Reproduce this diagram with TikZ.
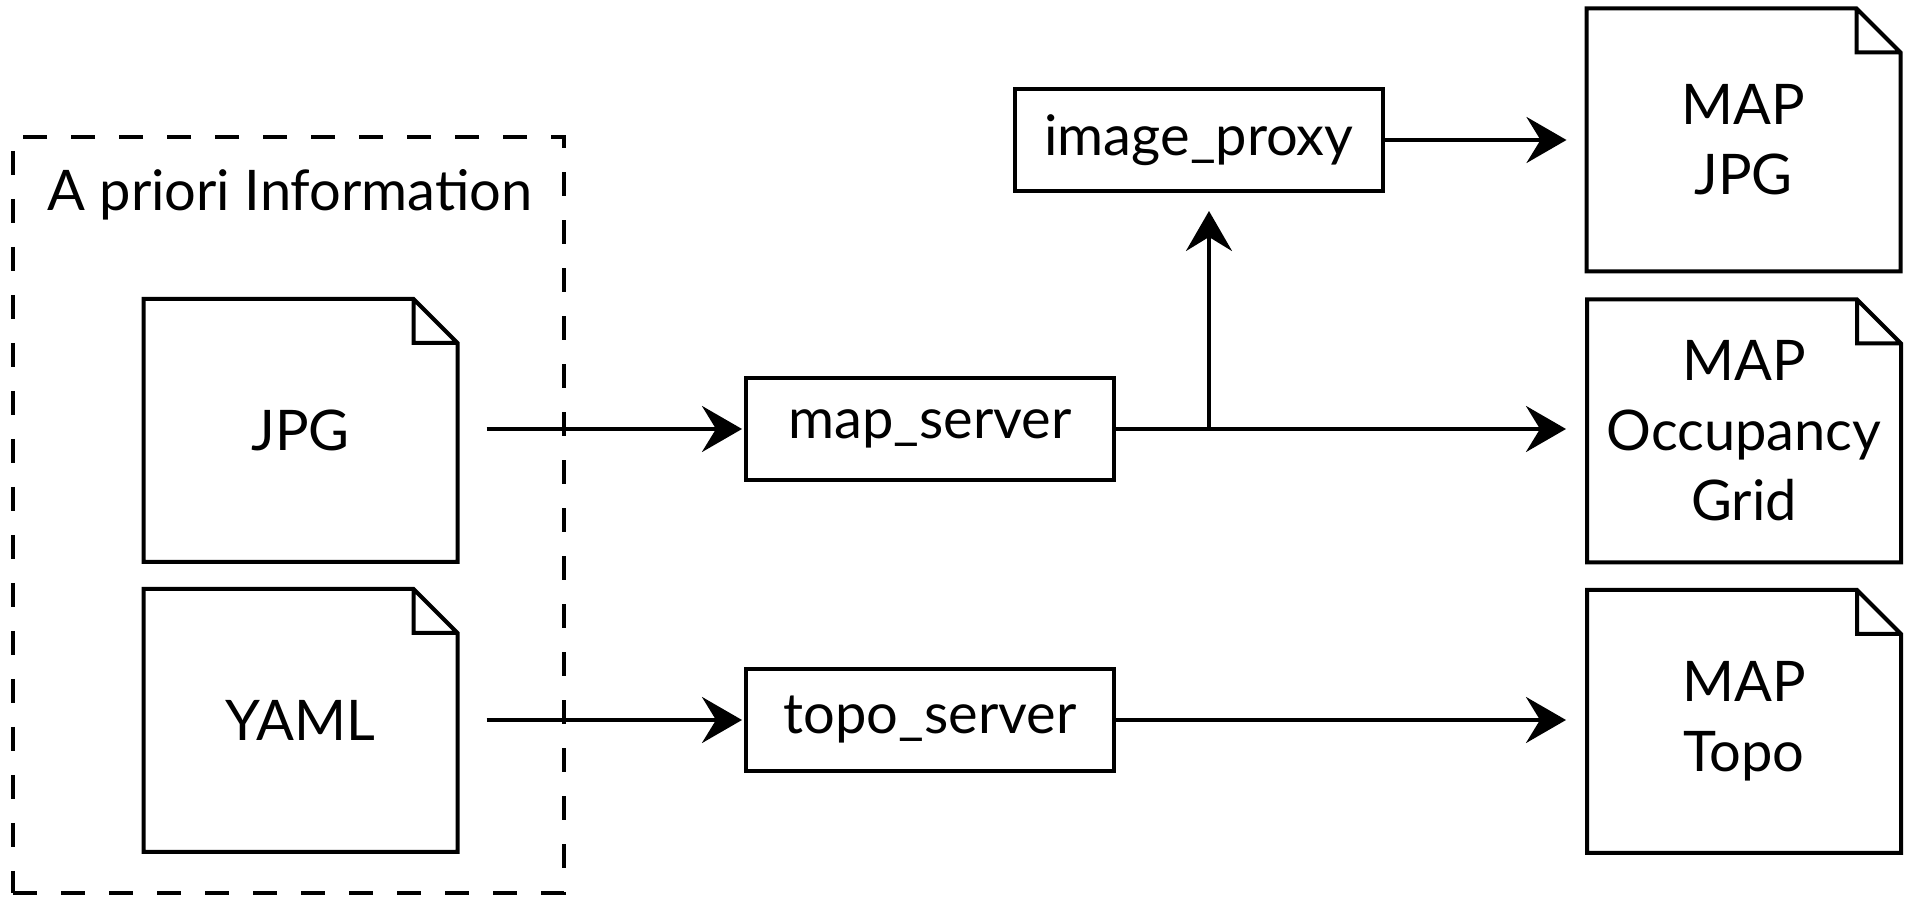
\documentclass[tikz,border=0pt]{standalone}
\usepackage{fontspec}
\setmainfont{Lato}
\usetikzlibrary{arrows.meta}
\begin{document}
\begin{tikzpicture}[x=0.5pt,y=-0.5pt,
  every node/.style={font=\fontsize{28}{35}\selectfont, align=center, inner sep=0pt, outer sep=0pt},
  docnode/.style={minimum width=157pt, minimum height=131.5pt},
  procbox/.style={draw, line width=2pt, minimum width=184pt, minimum height=51pt},
  docline/.style={line width=2pt, line join=miter},
  flow/.style={line width=2pt, -{Stealth[length=20pt,width=23pt,inset=7pt]}},
  groupbox/.style={draw, line width=2pt, dash pattern=on 12pt off 12pt, minimum width=275.5pt, minimum height=378pt}
]
\useasboundingbox (0,0) rectangle (1908,897);

% group
\node[groupbox] (grp) at (288.5,515) {};
\node[anchor=base] (title) at (290,211) {A priori Information};

% documents
\node[docnode] (jpg) at (300.5,430.5) {JPG};
\node[docnode] (yaml) at (300.5,720.5) {YAML};
\node[docnode] (mjpg) at (1743.5,140) {MAP\\JPG};
\node[docnode] (mocc) at (1744,431) {MAP\\Occupancy\\Grid};
\node[docnode] (mtopo) at (1744,721.5) {MAP\\Topo};

\foreach \n in {jpg,yaml,mjpg,mocc,mtopo}
  \draw[docline] (\n.north west) -- ([xshift=-22pt]\n.north east) -- ([yshift=-22pt]\n.north east)
    -- (\n.south east) -- (\n.south west) -- cycle
    ([xshift=-22pt]\n.north east) |- ([yshift=-22pt]\n.north east);

% processes
\node[procbox] (map) at (930,429) {map\_server};
\node[procbox] (topo) at (930,720) {topo\_server};
\node[procbox] (proxy) at (1199,140) {image\_proxy};

\path (map.east) -- ++(47.5pt,0) coordinate (br);

% connectors
\draw[flow, shorten <=14.5pt, shorten >=2pt] (jpg.east |- map.west) -- (map.west);
\draw[flow, shorten <=14.5pt, shorten >=2pt] (yaml.east |- topo.west) -- (topo.west);
\draw[flow, shorten >=10.5pt] (map.east) -- (map.east -| mocc.west);
\draw[flow, shorten >=10pt] (br) -- (br |- proxy.south);
\draw[flow, shorten >=10pt] (proxy.east) -- (proxy.east -| mjpg.west);
\draw[flow, shorten >=10.5pt] (topo.east) -- (topo.east -| mtopo.west);
\end{tikzpicture}
\end{document}
